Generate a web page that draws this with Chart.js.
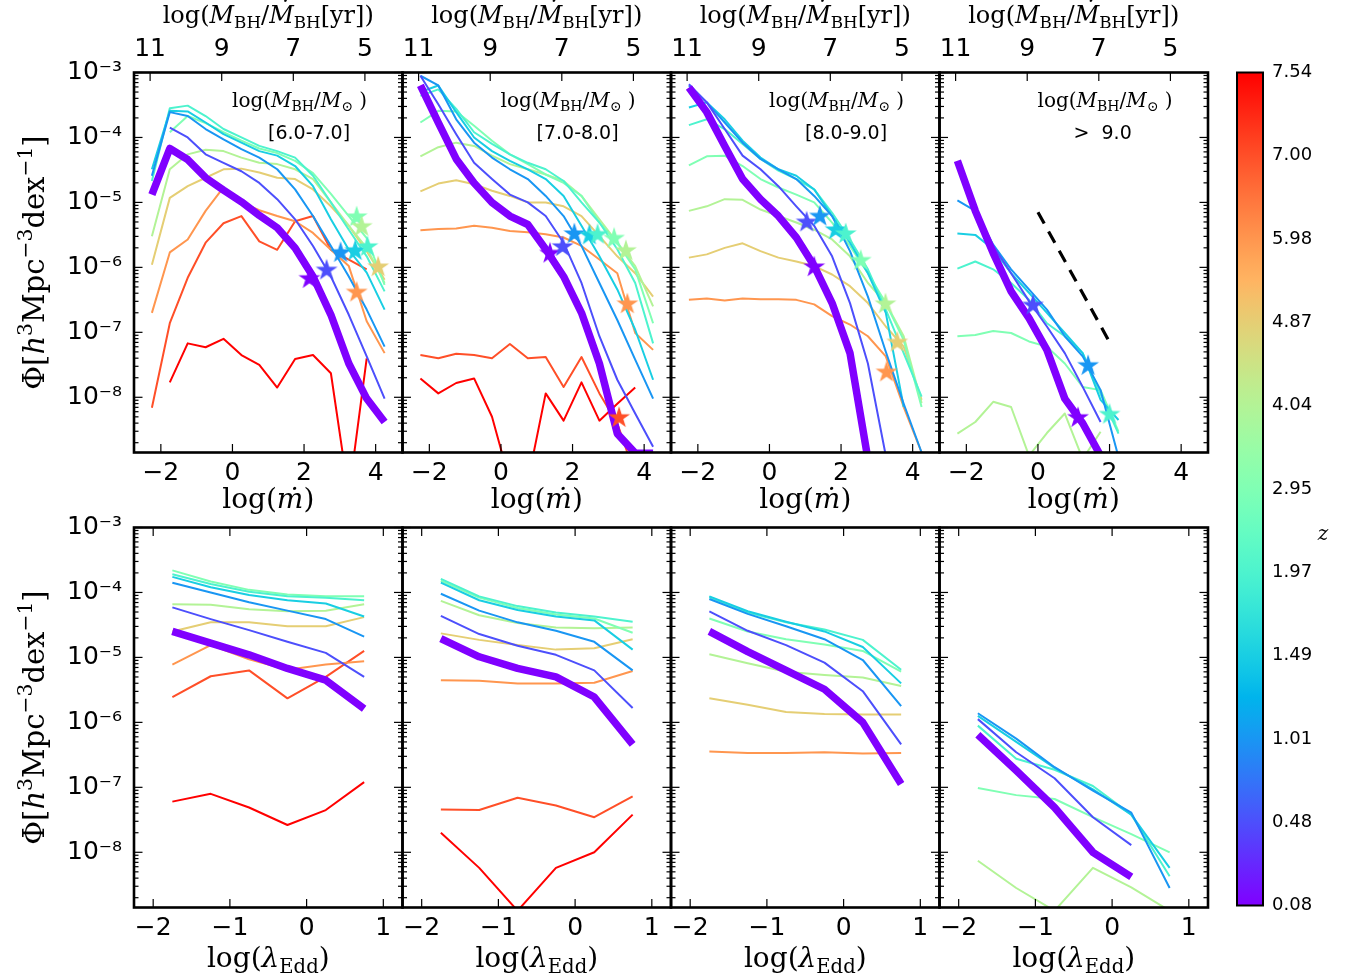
<!DOCTYPE html>
<html>
<head>
<meta charset="utf-8">
<script src="https://cdn.jsdelivr.net/npm/chart.js@4.4.1/dist/chart.umd.min.js"></script>
<style>
  body { margin: 0; background: #fff; }
  #fig { position: relative; width: 1352px; height: 979px; overflow: hidden; background: #fff; }
  #fig canvas { position: absolute; }
</style>
</head>
<body>
<div id="fig"></div>
<script>
// ---- data (log10 of Phi, one row per redshift, row 0 = z 0.08 ... row 10 = z 7.54)
const zValues = [0.08, 0.48, 1.01, 1.49, 1.97, 2.95, 4.04, 4.87, 5.98, 7.00, 7.54];
const mdotBins = [-2.25, -1.75, -1.25, -0.75, -0.25, 0.25, 0.75, 1.25, 1.75, 2.25, 2.75, 3.25, 3.75, 4.25];
const eddBins = [-1.75, -1.25, -0.75, -0.25, 0.25, 0.75];
const massLabels = ["[6.0-7.0]", "[7.0-8.0]", "[8.0-9.0]", ">  9.0"];

const mdotRange = [-2.75, 4.75];
const eddRange = [-2.25, 1.25];
const logPhiRange = [-8.85, -3];
const mdotTicks = [-2, 0, 2, 4];
const timeTicks = [5, 7, 9, 11];
const eddTicks = [-2, -1, 0, 1];
const phiTickExp = [-8, -7, -6, -5, -4, -3];
const timeOffset = 8.7;   // log(M/Mdot[yr]) = 8.7 - log(mdot)

const phiMdotM6 = [
  [-4.88, -4.17, -4.34, -4.62, -4.81, -4.99, -5.20, -5.39, -5.70, -6.14, -6.73, -7.48, -8.02, -8.38],
  [null, -3.85, -4.00, -4.26, -4.39, -4.52, -4.70, -4.95, -5.26, -5.67, -6.14, -6.73, -7.37, -8.02],
  [-4.59, -3.61, -3.67, -3.87, -4.03, -4.18, -4.31, -4.49, -4.80, -5.21, -5.67, -6.14, -6.65, -7.22],
  [-4.49, -3.59, -3.60, -3.77, -3.95, -4.08, -4.21, -4.28, -4.44, -4.75, -5.26, -5.73, -6.08, -6.65],
  [-4.67, -3.55, -3.51, -3.67, -3.87, -4.00, -4.13, -4.21, -4.31, -4.59, -5.00, -5.42, -5.83, -6.37],
  [null, -3.92, -3.67, -3.78, -3.92, -4.05, -4.17, -4.24, -4.36, -4.55, -4.87, -5.21, -5.55, -6.27],
  [-5.52, -4.49, -4.26, -4.19, -4.21, -4.31, -4.39, -4.41, -4.49, -4.64, -5.00, -5.36, -5.70, -6.24],
  [-5.96, -4.93, -4.75, -4.62, -4.49, -4.48, -4.54, -4.62, -4.64, -4.80, -5.06, -5.36, -5.75, -6.19],
  [-6.70, -5.77, -5.57, -5.13, -4.77, -5.00, -5.12, -5.21, -5.29, -5.47, -5.73, -5.98, -6.83, -7.32],
  [-8.16, -6.86, -6.16, -5.62, -5.32, -5.21, -5.60, -5.73, -5.29, -5.21, -5.73, -5.88, -6.03, null],
  [null, -7.77, -7.17, -7.23, -7.10, -7.35, -7.50, -7.85, -7.41, -7.35, -7.63, -9.50, -7.40, null]
];
const phiMdotM7 = [
  [-3.20, -3.77, -4.33, -4.70, -5.00, -5.21, -5.34, -5.72, -6.14, -6.70, -7.48, -8.56, -8.86, -8.86],
  [-3.05, -3.49, -3.95, -4.39, -4.64, -4.88, -5.00, -5.21, -5.62, -6.24, -7.06, -7.73, -8.25, -8.76],
  [-3.05, -3.20, -3.72, -4.08, -4.31, -4.49, -4.64, -4.90, -5.21, -5.67, -6.24, -6.81, -7.42, -8.02],
  [-3.30, -3.20, -3.61, -4.00, -4.21, -4.36, -4.49, -4.64, -4.90, -5.36, -5.83, -6.34, -6.96, -7.73],
  [-3.36, -3.26, -3.56, -3.92, -4.10, -4.26, -4.39, -4.49, -4.67, -5.00, -5.31, -5.72, -6.24, -7.17],
  [-3.77, -3.59, -3.60, -3.82, -4.05, -4.26, -4.41, -4.57, -4.70, -4.90, -5.31, -5.62, -6.03, -6.86],
  [-4.29, -4.15, -4.08, -4.13, -4.28, -4.41, -4.49, -4.57, -4.67, -4.90, -5.26, -5.62, -5.98, -6.60],
  [-4.83, -4.71, -4.66, -4.72, -4.82, -4.90, -5.00, -5.00, -5.06, -5.21, -5.52, -5.83, -6.09, -6.45],
  [-5.43, -5.41, -5.40, -5.36, -5.39, -5.44, -5.46, -5.49, -5.54, -5.67, -5.88, -6.09, -7.01, -7.27],
  [-7.35, -7.40, -7.33, -7.35, -7.40, -7.18, -7.40, -7.38, -7.84, -7.38, -7.94, -8.40, -9.20, null],
  [-7.71, -7.94, -7.78, -7.71, -8.30, -9.30, -9.30, -7.94, -8.36, -7.77, -8.36, -8.10, -7.85, null]
];
const phiMdotM8 = [
  [-3.23, -3.61, -4.13, -4.64, -4.95, -5.21, -5.54, -5.98, -6.55, -7.32, -8.95, null, null, null],
  [-3.18, -3.46, -3.87, -4.28, -4.49, -4.75, -5.06, -5.36, -5.83, -6.55, -7.48, -8.90, null, null],
  [-3.20, -3.46, -3.77, -4.08, -4.33, -4.49, -4.64, -4.90, -5.21, -5.75, -6.45, -7.30, -8.10, -8.85],
  [-3.54, -3.46, -3.72, -4.05, -4.31, -4.49, -4.59, -4.80, -5.21, -5.62, -6.09, -6.70, -8.15, null],
  [-3.81, -3.72, -3.87, -4.10, -4.33, -4.51, -4.64, -4.80, -5.16, -5.57, -6.03, -6.65, -7.32, -7.99],
  [-4.43, -4.29, -4.28, -4.44, -4.64, -4.77, -4.88, -5.00, -5.31, -5.67, -6.09, -6.55, -7.12, -8.15],
  [-5.13, -5.06, -4.95, -4.96, -5.11, -5.21, -5.31, -5.42, -5.57, -5.83, -6.24, -6.55, -7.06, -8.09],
  [-5.85, -5.80, -5.70, -5.63, -5.75, -5.85, -5.91, -5.98, -6.11, -6.29, -6.55, -6.91, -7.22, -8.04],
  [-6.50, -6.48, -6.51, -6.48, -6.49, -6.49, -6.50, -6.57, -6.75, -6.88, -7.06, -7.37, -8.15, -8.85],
  null,
  null
];
const phiMdotM9 = [
  [-4.36, -5.13, -5.78, -6.37, -6.78, -7.27, -8.02, -8.40, -8.90, null, null, null, null, null],
  [null, -5.16, -5.67, -6.09, -6.52, -6.91, -7.32, -7.84, -8.38, null, null, null, null, null],
  [-4.97, -5.13, -5.65, -6.03, -6.34, -6.65, -7.06, -7.37, -7.89, -8.92, null, null, null, null],
  [-5.48, -5.50, -5.72, -6.09, -6.39, -6.70, -7.01, -7.32, -8.04, -8.35, null, null, null, null],
  [-6.02, -5.91, -6.03, -6.24, -6.50, -6.86, -7.06, -7.32, -7.95, -8.56, null, null, null, null],
  [-7.06, -7.04, -6.98, -7.01, -7.14, -7.22, -7.48, -7.84, -7.89, -8.53, null, null, null, null],
  [-8.56, -8.38, -8.07, -8.15, -8.90, -8.55, -8.25, -8.95, -8.53, null, null, null, null, null],
  null, null, null, null
];

// stars: [log(mdot), log(Phi), redshift row]
const starsM6 = [[2.15, -6.16, 0], [2.63, -6.03, 1], [3.02, -5.76, 2], [3.43, -5.73, 3], [3.77, -5.67, 4],
                 [3.47, -5.21, 5], [3.61, -5.36, 6], [4.07, -5.98, 7], [3.47, -6.37, 8]];
const starsM7 = [[1.37, -5.77, 0], [1.72, -5.67, 1], [2.05, -5.47, 2], [2.47, -5.49, 3], [2.70, -5.48, 4],
                 [3.16, -5.54, 5], [3.49, -5.73, 6], [3.53, -6.55, 8], [3.30, -8.30, 9]];
const starsM8 = [[1.25, -5.98, 0], [1.04, -5.29, 1], [1.41, -5.20, 2], [1.85, -5.41, 3], [2.13, -5.47, 4],
                 [2.55, -5.88, 5], [3.24, -6.55, 6], [3.57, -7.14, 7], [3.27, -7.60, 8]];
const starsM9 = [[1.12, -8.30, 0], [-0.14, -6.57, 1], [1.40, -7.50, 2], [2.00, -8.25, 4]];

// dashed reference slope in the > 9.0 panel
const slopeX = [0, 2];
const slopeLogPhi = [-5.15, -7.15];

const phiEddM6 = [
  [-4.60, -4.78, -4.96, -5.17, -5.35, -5.79],
  [-4.23, -4.41, -4.58, -4.76, -4.93, -5.30],
  [-3.85, -4.00, -4.15, -4.28, -4.41, -4.68],
  [-3.76, -3.92, -4.04, -4.12, -4.17, -4.37],
  [-3.72, -3.87, -3.99, -4.06, -4.08, -4.12],
  [-3.66, -3.83, -3.96, -4.03, -4.06, -4.06],
  [-4.18, -4.19, -4.26, -4.29, -4.28, -4.18],
  [-4.60, -4.46, -4.46, -4.52, -4.52, -4.38],
  [-5.11, -4.81, -5.03, -5.19, -5.11, -5.06],
  [-5.61, -5.29, -5.20, -5.63, -5.30, -4.90],
  [-7.22, -7.10, -7.31, -7.58, -7.35, -6.92]
];
const phiEddM7 = [
  [-4.71, -4.99, -5.17, -5.30, -5.61, -6.34],
  [-4.36, -4.64, -4.82, -4.96, -5.20, -5.78],
  [-4.02, -4.28, -4.46, -4.59, -4.76, -5.20],
  [-3.85, -4.12, -4.27, -4.37, -4.43, -4.88],
  [-3.79, -4.06, -4.21, -4.31, -4.37, -4.45],
  [-3.82, -4.08, -4.24, -4.34, -4.40, -4.62],
  [-4.13, -4.35, -4.47, -4.54, -4.55, -4.54],
  [-4.63, -4.73, -4.81, -4.88, -4.86, -4.72],
  [-5.35, -5.36, -5.40, -5.40, -5.39, -5.21],
  [-7.34, -7.35, -7.16, -7.28, -7.46, -7.14],
  [-7.70, -8.24, -8.90, -8.24, -8.00, -7.42]
];
const phiEddM8 = [
  [-4.60, -4.91, -5.20, -5.49, -6.00, -6.95],
  [-4.29, -4.59, -4.81, -5.08, -5.52, -6.34],
  [-4.10, -4.33, -4.52, -4.72, -5.04, -5.75],
  [-4.06, -4.29, -4.45, -4.60, -4.84, -5.40],
  [-4.07, -4.31, -4.46, -4.57, -4.73, -5.19],
  [-4.40, -4.60, -4.72, -4.80, -4.90, -5.22],
  [-4.95, -5.09, -5.22, -5.27, -5.31, -5.44],
  [-5.63, -5.73, -5.84, -5.87, -5.88, -5.88],
  [-6.45, -6.47, -6.47, -6.46, -6.48, -6.47],
  null,
  null
];
const phiEddM9 = [
  [-6.19, -6.74, -7.31, -8.00, -8.38, null],
  [-5.95, -6.46, -6.86, -7.46, -7.89, null],
  [-5.86, -6.25, -6.69, -7.05, -7.39, -8.55],
  [-5.90, -6.30, -6.70, -7.03, -7.42, -8.24],
  [-6.05, -6.56, -6.73, -6.98, -7.42, -8.37],
  [-7.01, -7.12, -7.18, -7.46, -7.72, -8.00],
  [-8.13, -8.55, -8.90, -8.24, -8.54, -8.90],
  null, null, null, null
];

const mdotPhi = [phiMdotM6, phiMdotM7, phiMdotM8, phiMdotM9];
const mdotStars = [starsM6, starsM7, starsM8, starsM9];
const eddPhi = [phiEddM6, phiEddM7, phiEddM8, phiEddM9];

// ---- layout
const PW = 268.5, PH = 380;
const colX = [134, 402.5, 671, 939.5];
const rowY = [72.5, 527.5];
const SERIF = '"DejaVu Serif"';

Chart.defaults.font.family = '"DejaVu Sans"';
Chart.defaults.color = "#000";

// matplotlib "rainbow" colormap
function rainbow(t) {
    const r = Math.min(1, Math.abs(2 * t - 0.5));
    const g = Math.sin(Math.PI * t);
    const b = Math.cos(Math.PI * t / 2);
    return "rgb(" + Math.round(r * 255) + "," + Math.round(g * 255) + "," + Math.round(b * 255) + ")";
}

function starImage(color) {
    const c = document.createElement("canvas");
    const s = 26;
    c.width = s; c.height = s;
    const g = c.getContext("2d");
    const R = 11.5, r = R * 0.382;
    g.beginPath();
    for (let k = 0; k < 10; k++) {
        const ang = -Math.PI / 2 + k * Math.PI / 5;
        const rad = k % 2 ? r : R;
        g.lineTo(s / 2 + rad * Math.cos(ang), s / 2 + 1 + rad * Math.sin(ang));
    }
    g.closePath();
    g.fillStyle = color;
    g.fill();
    return c;
}

const sup = s => s.replace(/[-0-9]/g, c => "⁻⁰¹²³⁴⁵⁶⁷⁸⁹"["-0123456789".indexOf(c)]);
const minus = v => (v < 0 ? "−" + (-v) : "" + v);

// text with sub/superscripts; parts: {t, it, s, dy, dot}
function rich(ctx, parts, x, y, size, align) {
    const fontOf = p => (p.it ? "italic " : "") + (size * (p.s || 1)) + "px " + SERIF;
    let total = 0;
    const widths = parts.map(p => {
        ctx.font = fontOf(p);
        const w = ctx.measureText(p.t).width;
        total += w;
        return w;
    });
    let cx = align === "left" ? x : x - total / 2;
    ctx.textAlign = "left";
    ctx.textBaseline = "alphabetic";
    parts.forEach((p, k) => {
        ctx.font = fontOf(p);
        const py = y + (p.dy || 0) * size;
        ctx.fillText(p.t, cx, py);
        if (p.dot !== undefined) {
            const dw = ctx.measureText("˙").width;
            ctx.fillText("˙", cx + widths[k] / 2 - dw / 2 + size * 0.07, py - size * p.dot);
        }
        cx += widths[k];
    });
}

const topTitle = [{t: "log("}, {t: "M", it: 1}, {t: "BH", s: 0.7, dy: 0.2}, {t: "/"},
                  {t: "M", it: 1, dot: 0.22}, {t: "BH", s: 0.7, dy: 0.2}, {t: "[yr])"}];
const mdotTitle = [{t: "log("}, {t: "m", it: 1, dot: 0}, {t: ")"}];
const eddTitle = [{t: "log("}, {t: "λ", it: 1}, {t: "Edd", s: 0.7, dy: 0.22}, {t: ")"}];
const phiTitle = [{t: "Φ["}, {t: "h", it: 1}, {t: "3", s: 0.7, dy: -0.4}, {t: "Mpc"},
                  {t: "−3", s: 0.7, dy: -0.4}, {t: "dex"}, {t: "−1", s: 0.7, dy: -0.4}, {t: "]"}];
const massTitle = [{t: "log("}, {t: "M", it: 1}, {t: "BH", s: 0.7, dy: 0.2}, {t: "/"},
                   {t: "M", it: 1}, {t: "⊙", s: 0.7, dy: 0.2}, {t: " )"}];

const panelDecor = {
    id: "panelDecor",
    afterDraw(chart, args, opts) {
        const {ctx, chartArea: a, scales} = chart;
        const row = opts.row, col = opts.col;
        const seg = (x1, y1, x2, y2) => { ctx.beginPath(); ctx.moveTo(x1, y1); ctx.lineTo(x2, y2); ctx.stroke(); };
        ctx.save();
        ctx.strokeStyle = "#000";
        ctx.fillStyle = "#000";
        ctx.lineWidth = 1.2;
        for (let e = -9; e <= -3; e++) {
            for (let k = 1; k <= 9; k++) {
                const lv = e + Math.log10(k);
                if (lv < logPhiRange[0] || lv > logPhiRange[1] + 1e-9) continue;
                const py = scales.y.getPixelForValue(Math.pow(10, lv));
                const len = k === 1 ? 8.5 : 4.5;
                seg(a.left, py, a.left + len, py);
                seg(a.right, py, a.right - len, py);
            }
        }
        scales.x.ticks.forEach(t => {
            const px = scales.x.getPixelForValue(t.value);
            seg(px, a.bottom, px, a.bottom - 8.5);
            if (row === 1) seg(px, a.top, px, a.top + 8.5);
        });
        if (row === 0) {
            scales.x2.ticks.forEach(t => {
                const px = scales.x2.getPixelForValue(t.value);
                seg(px, a.top, px, a.top + 8.5);
            });
        }
        ctx.lineWidth = 2.6;
        ctx.strokeRect(a.left, a.top, a.right - a.left, a.bottom - a.top);

        const cx = (a.left + a.right) / 2;
        if (row === 0) {
            rich(ctx, topTitle, cx, a.top - 49.5, 24, "center");
            rich(ctx, mdotTitle, cx, a.bottom + 55.5, 28, "center");
            rich(ctx, massTitle, a.left + 98, a.top + 34.5, 20, "left");
            ctx.font = '19px "DejaVu Sans"';
            ctx.fillText(massLabels[col], a.left + 134, a.top + 66.5);
        } else {
            rich(ctx, eddTitle, cx, a.bottom + 59.5, 28, "center");
        }
        if (col === 0) {
            ctx.translate(a.left - 90, (a.top + a.bottom) / 2);
            ctx.rotate(-Math.PI / 2);
            rich(ctx, phiTitle, 0, 0, 29, "center");
        }
        ctx.restore();
    }
};

function makePanel(row, col) {
    const fig = document.getElementById("fig");
    const left = col === 0 ? 0 : Math.floor(colX[col] - 32);
    const top = row === 0 ? 0 : 497;
    const ml = colX[col] - left;
    const mt = rowY[row] - top;
    const w = Math.ceil(ml + PW + 20);
    const h = row === 0 ? 523 : 482;
    const mr = w - ml - PW;
    const mb = h - mt - PH;

    const cv = document.createElement("canvas");
    cv.width = w; cv.height = h;
    cv.style.left = left + "px"; cv.style.top = top + "px";
    cv.style.width = w + "px"; cv.style.height = h + "px";
    fig.appendChild(cv);

    const bins = row === 0 ? mdotBins : eddBins;
    const lines = row === 0 ? mdotPhi[col] : eddPhi[col];
    const range = row === 0 ? mdotRange : eddRange;
    const datasets = [];

    if (row === 0) {
        const st = mdotStars[col];
        datasets.push({
            data: st.map(s => ({x: s[0], y: Math.pow(10, s[1])})),
            showLine: false,
            pointRadius: 10,
            pointStyle: st.map(s => starImage(rainbow(s[2] / 10))),
            clip: false
        });
        if (col === 3) {
            datasets.push({
                data: slopeX.map((x, k) => ({x: x, y: Math.pow(10, slopeLogPhi[k])})),
                borderColor: "#000",
                borderWidth: 3.2,
                borderDash: [13, 9],
                pointRadius: 0,
                clip: 0
            });
        }
    }

    lines.forEach((ys, i) => {
        if (!ys) return;
        datasets.push({
            data: bins.map((x, k) => ({x: x, y: ys[k] === null ? null : Math.pow(10, ys[k])})),
            borderColor: rainbow(i / 10),
            borderWidth: i === 0 ? 7.5 : 2,
            borderJoinStyle: "round",
            borderCapStyle: "butt",
            pointRadius: 0,
            tension: 0,
            clip: 0
        });
    });

    const tickFont = {size: 25, family: '"DejaVu Sans"'};
    const scales = {
        x: {
            type: "linear", position: "bottom", min: range[0], max: range[1],
            afterBuildTicks: s => { s.ticks = (row === 0 ? mdotTicks : eddTicks).map(v => ({value: v})); },
            afterFit: s => { s.height = mb; s.paddingLeft = 0; s.paddingRight = 0; },
            grid: {display: false, drawTicks: false}, border: {display: false},
            ticks: {font: tickFont, color: "#000", padding: 6, maxRotation: 0, autoSkip: false, callback: v => minus(v)}
        },
        y: {
            type: "logarithmic", position: "left",
            min: Math.pow(10, logPhiRange[0]), max: Math.pow(10, logPhiRange[1]),
            afterBuildTicks: s => { s.ticks = phiTickExp.map(e => ({value: Math.pow(10, e)})); },
            afterFit: s => { s.width = ml; s.paddingTop = 0; s.paddingBottom = 0; },
            grid: {display: false, drawTicks: false}, border: {display: false},
            ticks: {display: col === 0, font: tickFont, color: "#000", padding: 12, autoSkip: false,
                    callback: v => "10" + sup(String(Math.round(Math.log10(v))))}
        }
    };
    if (row === 0) {
        scales.x2 = {
            type: "linear", position: "top",
            min: timeOffset - range[1], max: timeOffset - range[0], reverse: true,
            afterBuildTicks: s => { s.ticks = timeTicks.map(v => ({value: v})); },
            afterFit: s => { s.height = mt; s.paddingLeft = 0; s.paddingRight = 0; },
            grid: {display: false, drawTicks: false}, border: {display: false},
            ticks: {font: tickFont, color: "#000", padding: 8, maxRotation: 0, autoSkip: false}
        };
    }

    new Chart(cv, {
        type: "line",
        data: {datasets: datasets},
        options: {
            responsive: false,
            animation: false,
            events: [],
            spanGaps: false,
            layout: {padding: {left: 0, right: mr, top: row === 0 ? 0 : mt, bottom: 0}},
            scales: scales,
            plugins: {
                legend: {display: false},
                tooltip: {enabled: false},
                panelDecor: {row: row, col: col}
            }
        },
        plugins: [panelDecor]
    });
}

const cbarDecor = {
    id: "cbarDecor",
    afterDraw(chart) {
        const {ctx, chartArea: a} = chart;
        ctx.save();
        ctx.strokeStyle = "#000";
        ctx.lineWidth = 2;
        ctx.strokeRect(a.left, a.top, a.right - a.left, a.bottom - a.top);
        ctx.fillStyle = "#000";
        ctx.font = "italic 20px " + SERIF;
        ctx.textAlign = "center";
        ctx.textBaseline = "middle";
        ctx.fillText("z", a.right + 60, 535 - 60);
        ctx.restore();
    }
};

function makeColorbar() {
    const fig = document.getElementById("fig");
    const left = 1227, top = 60, w = 125, h = 860;
    const cv = document.createElement("canvas");
    cv.width = w; cv.height = h;
    cv.style.left = left + "px"; cv.style.top = top + "px";
    cv.style.width = w + "px"; cv.style.height = h + "px";
    fig.appendChild(cv);

    new Chart(cv, {
        type: "bar",
        data: {
            labels: ["z"],
            datasets: [{
                data: [[0, zValues.length - 1]],
                borderWidth: 0,
                barPercentage: 1,
                categoryPercentage: 1,
                backgroundColor: c => {
                    const a = c.chart.chartArea;
                    if (!a) return "#888";
                    const g = c.chart.ctx.createLinearGradient(0, a.bottom, 0, a.top);
                    for (let k = 0; k <= 40; k++) g.addColorStop(k / 40, rainbow(k / 40));
                    return g;
                }
            }]
        },
        options: {
            responsive: false,
            animation: false,
            events: [],
            layout: {padding: {left: 10, right: 0, top: 12.5, bottom: 14.5}},
            scales: {
                x: {display: false},
                y: {
                    position: "right", min: 0, max: zValues.length - 1,
                    afterBuildTicks: s => { s.ticks = zValues.map((z, i) => ({value: i})); },
                    afterFit: s => { s.width = w - 10 - 26; s.paddingTop = 0; s.paddingBottom = 0; },
                    grid: {display: false, drawTicks: false}, border: {display: false},
                    ticks: {font: {size: 18}, color: "#000", padding: 9, autoSkip: false,
                            callback: v => zValues[v].toFixed(2)}
                }
            },
            plugins: {legend: {display: false}, tooltip: {enabled: false}}
        },
        plugins: [cbarDecor]
    });
}

for (let row = 0; row < 2; row++)
    for (let col = 0; col < 4; col++)
        makePanel(row, col);

makeColorbar();
</script>
</body>
</html>
